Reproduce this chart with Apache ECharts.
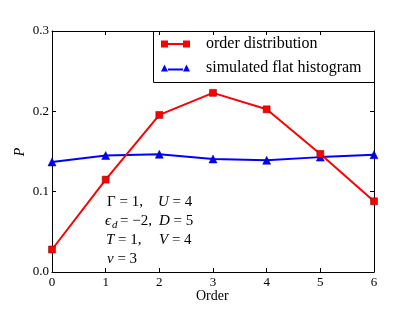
<!DOCTYPE html>
<html>
<head>
<meta charset="utf-8">
<script src="https://cdn.jsdelivr.net/npm/echarts@6/dist/echarts.min.js"></script>
<style>html,body{margin:0;padding:0;background:#fff}#c{width:415px;height:312px}</style>
</head>
<body>
<div id="c"></div>
<script>
var orders = [0, 1, 2, 3, 4, 5, 6];
var orderDistribution = [0.028, 0.115, 0.1955, 0.223, 0.2025, 0.147, 0.088];
var flatHistogram = [0.137, 0.145, 0.1465, 0.1407, 0.139, 0.143, 0.146];
var seriesNames = ['order distribution', 'simulated flat histogram'];
var xTicks = [0, 6, 1];
var yTicks = [0, 0.3, 0.1];

var SERIF = '"Liberation Serif", "DejaVu Serif", serif';
function pairs(xs, ys) { return xs.map(function (x, i) { return [x, ys[i]]; }); }

var chart = echarts.init(document.getElementById('c'), null, { renderer: 'canvas' });
var axisCommon = {
  axisLine: { show: true, onZero: false, lineStyle: { color: '#000', width: 1 } },
  axisTick: { show: true, inside: true, length: 4, lineStyle: { color: '#000', width: 1 } },
  splitLine: { show: false }
};
var RICH = { i: { fontStyle: 'italic', fontFamily: SERIF, fontSize: 15 } };
function txt(x, y, s, size) {
  return {
    type: 'text', left: x, top: y,
    style: { text: s, font: (size || 15) + 'px ' + SERIF, fill: '#000',
      rich: { i: { fontStyle: 'italic', fontFamily: SERIF, fontSize: size || 15 } } }
  };
}
chart.setOption({
  animation: false,
  grid: { left: 52, right: 41, top: 31, bottom: 40 },
  xAxis: [
    Object.assign({ type: 'value', min: xTicks[0], max: xTicks[1], interval: xTicks[2], position: 'bottom',
      axisLabel: { margin: 4, fontFamily: SERIF, fontSize: 13, color: '#000' } }, axisCommon),
    Object.assign({ type: 'value', min: xTicks[0], max: xTicks[1], interval: xTicks[2], position: 'top',
      axisLabel: { show: false } }, axisCommon)
  ],
  yAxis: [
    Object.assign({ type: 'value', min: yTicks[0], max: yTicks[1], interval: yTicks[2], position: 'left',
      axisLabel: { margin: 3, fontFamily: SERIF, fontSize: 13, color: '#000',
        formatter: function (v) { return v.toFixed(1); } } }, axisCommon),
    Object.assign({ type: 'value', min: yTicks[0], max: yTicks[1], interval: yTicks[2], position: 'right',
      axisLabel: { show: false } }, axisCommon)
  ],
  legend: {
    orient: 'vertical', left: 161, top: 36, padding: 0,
    itemWidth: 29, itemHeight: 7, itemGap: 8,
    itemStyle: { borderWidth: 0 },
    textStyle: { fontFamily: SERIF, fontSize: 16, color: '#000', lineHeight: 16, padding: [0, 0, 0, 11] },
    data: [
      { name: seriesNames[0], icon: 'path://M0,0H7V7H0Z M22,0H29V7H22Z M7,2.5H22V4.5H7Z' },
      { name: seriesNames[1], icon: 'path://M0,7L3.5,0L7,7Z M22,7L25.5,0L29,7Z M7,4H22V6H7Z' }
    ]
  },
  graphic: [
    { type: 'rect', left: 153, top: 31, shape: { width: 221, height: 51 },
      style: { fill: 'rgba(0,0,0,0)', stroke: '#000', lineWidth: 1 }, z: 10 },
    txt(107, 195, 'Γ = 1,'),
    txt(158, 195, '{i|U} = 4'),
    txt(105, 214, '{i|ϵ}'),
    txt(112, 220, '{i|d}', 11),
    txt(120, 214, '= −2,'),
    txt(159, 214, '{i|D} = 5'),
    txt(106, 233, '{i|T} = 1,'),
    txt(159, 233, '{i|V} = 4'),
    txt(107, 252, '{i|ν} = 3'),
    txt(196, 289, 'Order', 14),
    { type: 'text', x: 20, y: 152, rotation: Math.PI / 2,
      style: { text: 'P', font: 'italic 14px ' + SERIF, fill: '#000', align: 'center', verticalAlign: 'middle' } }
  ],
  series: [
    { name: seriesNames[0], type: 'line', data: pairs(orders, orderDistribution),
      symbol: 'rect', symbolSize: 7, color: '#ff0000',
      lineStyle: { color: '#ff0000', width: 2 },
      itemStyle: { color: '#ff0000', borderColor: '#800000', borderWidth: 0.5 }, z: 3 },
    { name: seriesNames[1], type: 'line', data: pairs(orders, flatHistogram),
      symbol: 'triangle', symbolSize: 8, color: '#0000ff',
      lineStyle: { color: '#0000ff', width: 2 },
      itemStyle: { color: '#0000ff', borderColor: '#000080', borderWidth: 0.5 }, z: 2 }
  ]
});
</script>
</body>
</html>
